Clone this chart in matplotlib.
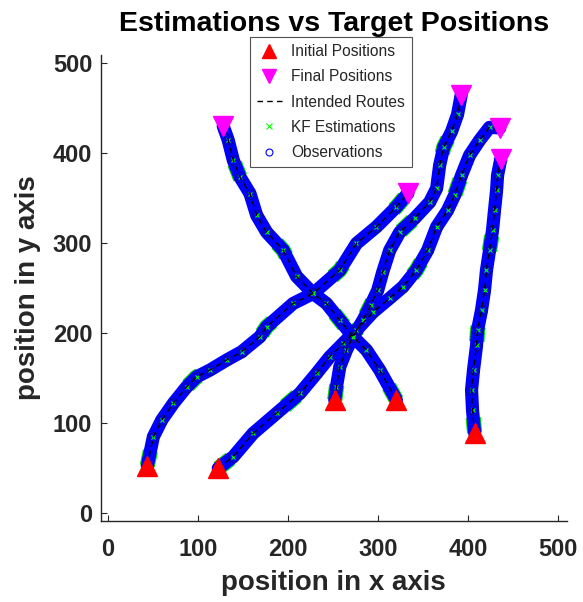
import matplotlib.pyplot as plt
from matplotlib.lines import Line2D

plt.rcParams['font.family'] = ['Liberation Sans', 'DejaVu Sans']

# Route waypoints for each target (x, y)
route_a_x = [43.7, 50.5, 59.8, 72.7, 87.5, 98.6, 113.3, 131.8, 148.4, 168.7, 176.2, 205.6, 227.8, 257.4, 275.9, 298.0, 320.2, 333.0]
route_a_y = [52.2, 84.7, 103.3, 121.8, 140.2, 151.3, 158.8, 169.9, 179.1, 195.8, 206.9, 232.8, 243.9, 269.8, 299.5, 317.9, 340.1, 355.3]

route_b_x = [122.5, 139.2, 161.3, 187.2, 213.1, 231.6, 246.3, 261.0, 275.9, 294.3, 312.8, 327.5, 342.3, 354.9, 364.8, 377.0, 384.8, 392.5, 401.4, 412.5, 423.6, 435.0]
route_b_y = [49.6, 62.5, 88.5, 110.7, 132.9, 155.1, 173.5, 188.4, 203.2, 223.2, 238.7, 251.3, 269.8, 292.0, 317.9, 336.4, 353.1, 375.3, 397.5, 414.2, 428.6, 428.0]

route_c_x = [251.8, 253.7, 257.4, 264.8, 272.1, 283.2, 291.7, 299.5, 305.0, 312.8, 323.9, 340.5, 357.1, 364.9, 368.2, 372.7, 381.5, 388.1, 392.2]
route_c_y = [125.5, 140.2, 162.4, 181.0, 195.8, 214.3, 230.9, 247.6, 267.6, 292.0, 312.0, 327.6, 345.4, 360.9, 386.4, 406.4, 424.2, 443.0, 465.0]

route_d_x = [320.2, 301.7, 287.0, 272.1, 257.4, 242.6, 227.8, 209.4, 194.6, 176.2, 165.1, 157.7, 146.6, 139.2, 133.6, 128.0]
route_d_y = [125.5, 158.8, 181.0, 195.8, 214.3, 232.8, 243.9, 262.9, 292.0, 312.0, 330.9, 355.0, 373.4, 392.0, 414.2, 430.0]

route_e_x = [407.0, 404.7, 403.6, 405.8, 409.2, 410.3, 414.7, 418.0, 420.2, 423.6, 426.9, 429.1, 431.4, 432.5, 436.0]
route_e_y = [89.0, 114.4, 136.6, 158.8, 186.6, 203.2, 225.4, 247.6, 269.8, 292.0, 314.2, 336.4, 358.6, 375.3, 393.0]

routes = [
    (route_a_x, route_a_y),
    (route_b_x, route_b_y),
    (route_c_x, route_c_y),
    (route_d_x, route_d_y),
    (route_e_x, route_e_y),
]

# Start and end points of each target
start_x = [43.7, 122.5, 251.8, 320.2, 407.0]
start_y = [52.2, 49.6, 125.5, 125.5, 89.0]
end_x = [333.0, 435.0, 392.2, 128.0, 436.0]
end_y = [355.3, 428.0, 465.0, 430.0, 393.0]

fig = plt.figure(figsize=(5.83, 6.02), dpi=100)
ax = fig.add_axes([0.1727, 0.1346, 0.799, 0.774])

for rx, ry in routes:
    # KF estimations peeking out along the edges
    ax.plot(rx, ry, '-', color='#00e000', lw=11, solid_capstyle='round', solid_joinstyle='round',
            dashes=(1, 5), zorder=1)
    # observations: dense blue band of circles
    ax.plot(rx, ry, '-', color='#0000ff', lw=9.5, solid_capstyle='round', solid_joinstyle='round', zorder=2)
    ax.plot(rx, ry, 'o', mfc='none', mec='#0a0a9a', ms=7, mew=0.8, zorder=3)
    ax.plot(rx, ry, 'x', color='#00ff00', ms=3, mew=0.8, zorder=4)
    # intended route
    ax.plot(rx, ry, '--', color='black', lw=1, dashes=(4, 3), zorder=5)

ax.plot(start_x, start_y, '^', color='red', ms=14, ls='none', zorder=6)
ax.plot(end_x, end_y, 'v', color='magenta', ms=14, ls='none', zorder=6)

ax.set_xlim(-8, 509)
ax.set_ylim(-9, 509)
ax.set_xticks([0, 100, 200, 300, 400, 500])
ax.set_yticks([0, 100, 200, 300, 400, 500])

for side in ['top', 'right']:
    ax.spines[side].set_visible(False)
for side in ['left', 'bottom']:
    ax.spines[side].set_color('#262626')
    ax.spines[side].set_linewidth(1.0)

ax.tick_params(direction='in', length=4, width=0.8, colors='#262626', labelsize=17)
ax.tick_params(axis='x', pad=12)
ax.tick_params(axis='y', pad=6)
for lbl in ax.get_xticklabels() + ax.get_yticklabels():
    lbl.set_fontweight('bold')

ax.set_xlabel('position in x axis', fontsize=20, fontweight='bold', color='#262626', va='center')
ax.set_ylabel('position in y axis', fontsize=20, fontweight='bold', color='#262626', va='center')
ax.xaxis.set_label_coords(0.5, -0.133)
ax.yaxis.set_label_coords(-0.156, 0.5)
ax.set_title('Estimations vs Target Positions', fontsize=20.5, fontweight='bold', pad=17)

handles = [
    Line2D([], [], marker='^', color='red', ls='none', ms=10),
    Line2D([], [], marker='v', color='magenta', ls='none', ms=10),
    Line2D([], [], color='black', ls='--', lw=1, dashes=(4, 3)),
    Line2D([], [], marker='x', color='#00ff00', ls='none', ms=4, mew=0.8),
    Line2D([], [], marker='o', mfc='none', mec='blue', ls='none', ms=5, mew=0.8),
]
labels = ['Initial Positions', 'Final Positions', 'Intended Routes', 'KF Estimations', 'Observations']
leg = fig.legend(handles, labels, loc='upper left', bbox_to_anchor=(250 / 583, 1 - 37 / 602),
                 fontsize=11.2, frameon=True, fancybox=False, edgecolor='#262626',
                 handlelength=1.6, handletextpad=0.6, borderpad=0.45, labelspacing=0.66,
                 borderaxespad=0, labelcolor='#262626')
leg.get_frame().set_linewidth(0.8)
leg.set_zorder(10)

fig.savefig('out.png', dpi=100)
